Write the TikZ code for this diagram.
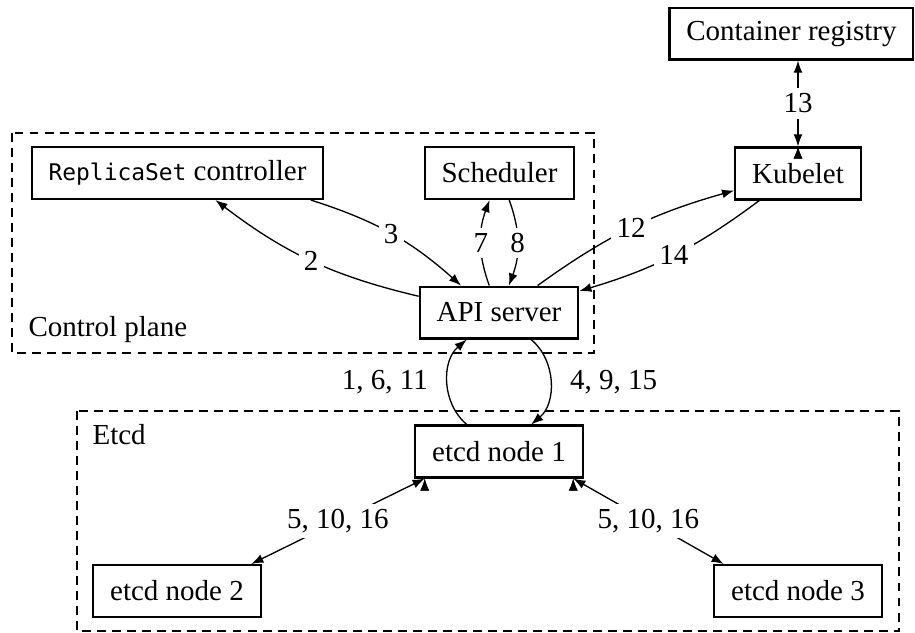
\documentclass[tikz,border=0pt]{standalone}
\usepackage{fontspec}
\setmainfont{Liberation Serif}
\setmonofont[Scale=0.79]{DejaVu Sans Mono}
\usetikzlibrary{arrows.meta,positioning}
\tikzset{%
	compnode/.style={rectangle, draw=black, thick, fill=white, minimum height=19.7pt, inner xsep=6.4pt},
	groupbox/.style={draw=black, thick, dash pattern=on 3.4pt off 2.3pt},
	grouplabel/.style={anchor=base west, inner sep=0pt},
	stepnum/.style={fill=white, inner sep=2pt},
	tocomp/.style={draw=black, semithin, ->, >={Latex[length=4.6pt,width=3.4pt]}},
	bothcomp/.style={draw=black, semithin, <->, >={Latex[length=4.6pt,width=3.4pt]}}}

\begin{document}
\begin{tikzpicture}[font=\fontsize{11}{13}\selectfont, semithin/.style={line width=0.5pt}]
		\useasboundingbox (0,0) rectangle (12.2,-8.427);
		
		\draw[groupbox] (0.16,-1.773) rectangle (7.92,-4.707);
		\draw[groupbox] (1.027,-5.48) rectangle (11.987,-8.415);
		\node[grouplabel] (cplabel) at (0.373,-4.48) {Control plane};
		\node[grouplabel] (etcdlabel) at (1.227,-5.933) {Etcd};
		
		\node[compnode] (registry) at (10.553,-0.447) {Container registry};
		\node[compnode] (kubelet) at (10.64,-2.313) {Kubelet};
		\node[compnode] (rs) at (2.367,-2.307) {\texttt{ReplicaSet} controller};
		\node[compnode] (sched) at (6.66,-2.307) {Scheduler};
		\node[compnode] (api) at (6.653,-4.167) {API server};
		\node[compnode] (etcd1) at (6.653,-6.02) {etcd node 1};
		\node[compnode] (etcd2) at (2.36,-7.88) {etcd node 2};
		\node[compnode] (etcd3) at (10.64,-7.88) {etcd node 3};
		
		\path[tocomp] (api) 	edge [bend left=12]  node [stepnum] 	{2} (rs);
		\path[tocomp] (rs) 	edge [bend left=12]  node [stepnum] 	{3} (api);
		\path[tocomp] (api) 	edge [bend left=20]  node [stepnum] 	{7} (sched);
		\path[tocomp] (sched) 	edge [bend left=20]  node [stepnum] 	{8} (api);
		\path[tocomp] (api) 	edge [bend left=10]  node [stepnum] 	{12} (kubelet);
		\path[tocomp] (kubelet) 	edge [bend left=10]  node [stepnum] 	{14} (api);
		\path[tocomp] (etcd1) 	edge [bend left=50]  node [left=4pt] 	{1, 6, 11} (api);
		\path[tocomp] (api) 	edge [bend left=50]  node [right=4pt] 	{4, 9, 15} (etcd1);
		
		\path[bothcomp] (etcd1.200) 	edge []  node [stepnum] 	{5, 10, 16} (etcd2.20);
		\path[bothcomp] (etcd1.340) 	edge []  node [stepnum] 	{5, 10, 16} (etcd3.160);
		\path[bothcomp] (kubelet.north) 	edge []  node [stepnum] 	{13} (kubelet.north |- registry.south);
	\end{tikzpicture}
\end{document}
